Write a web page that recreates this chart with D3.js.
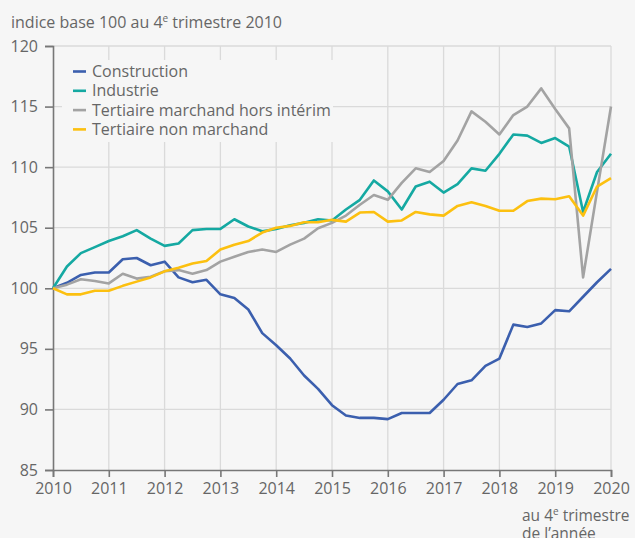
<!DOCTYPE html>
<html>
<head>
<meta charset="utf-8">
<script src="https://cdn.jsdelivr.net/npm/d3@7"></script>
<style>
  html, body { margin: 0; padding: 0; background: #f6f6f6; }
  text { font-family: "Open Sans", sans-serif; fill: #666; }
</style>
</head>
<body>
<div id="chart"></div>
<script>
// indices trimestriels, base 100 au T4 2010 (41 trimestres, T4 2010 -> T4 2020)
var seriesNames = ["Construction", "Industrie", "Tertiaire marchand hors intérim", "Tertiaire non marchand"];
var seriesColors = ["#3b5fae", "#15a9a2", "#a3a3a3", "#fcc010"];

var construction = [100, 100.45, 101.1, 101.3, 101.3, 102.4, 102.5, 101.9, 102.2, 100.9, 100.5, 100.7,
  99.5, 99.2, 98.25, 96.3, 95.3, 94.2, 92.8, 91.7, 90.35, 89.5, 89.3, 89.3, 89.2, 89.7, 89.7, 89.7,
  90.8, 92.1, 92.4, 93.6, 94.2, 97.0, 96.8, 97.1, 98.2, 98.1, 99.3, 100.5, 101.6];
var industrie = [100, 101.8, 102.9, 103.4, 103.9, 104.3, 104.8, 104.1, 103.5, 103.7, 104.8, 104.9,
  104.9, 105.7, 105.1, 104.7, 104.9, 105.2, 105.4, 105.7, 105.6, 106.5, 107.3, 108.9, 108.0, 106.5,
  108.4, 108.8, 107.9, 108.6, 109.9, 109.7, 111.1, 112.7, 112.6, 112.0, 112.4, 111.7, 106.3, 109.6, 111.1];
var tertiaireMarchand = [100, 100.3, 100.75, 100.6, 100.4, 101.2, 100.8, 100.95, 101.4, 101.5, 101.2, 101.5,
  102.2, 102.6, 103.0, 103.2, 103.0, 103.6, 104.1, 104.95, 105.4, 106.0, 106.9, 107.7, 107.3, 108.7,
  109.9, 109.6, 110.5, 112.2, 114.6, 113.75, 112.7, 114.3, 115.0, 116.5, 114.8, 113.2, 100.9, 108.0, 115.0];
var tertiaireNonMarchand = [100, 99.5, 99.5, 99.8, 99.8, 100.2, 100.55, 100.9, 101.4, 101.7, 102.05, 102.25,
  103.2, 103.6, 103.9, 104.6, 105.0, 105.15, 105.45, 105.45, 105.65, 105.5, 106.25, 106.3, 105.5, 105.6,
  106.3, 106.1, 106.0, 106.8, 107.1, 106.8, 106.4, 106.4, 107.2, 107.4, 107.35, 107.6, 106.0, 108.4, 109.1];

var xTicks = [2010, 2011, 2012, 2013, 2014, 2015, 2016, 2017, 2018, 2019, 2020];
var yTicks = [85, 90, 95, 100, 105, 110, 115, 120];

var allSeries = [construction, industrie, tertiaireMarchand, tertiaireNonMarchand];

var width = 635, height = 538;
// bords de la zone de tracé ("top" est reserve par window, d'ou les noms)
var plotLeft = 53, plotRight = 611, plotTop = 46, plotBottom = 470;

var svg = d3.select("#chart")
  .append("svg")
  .attr("width", width)
  .attr("height", height);

var x = d3.scaleLinear().domain([2010, 2020]).range([plotLeft, plotRight]);
var y = d3.scaleLinear().domain([85, 120]).range([plotBottom, plotTop]);

// grille
svg.append("g")
  .selectAll("line")
  .data(xTicks.slice(1))
  .enter().append("line")
  .attr("x1", function(d) { return x(d); })
  .attr("x2", function(d) { return x(d); })
  .attr("y1", plotTop)
  .attr("y2", plotBottom)
  .style("stroke", "#dadada")
  .style("stroke-width", 1.3);

svg.append("g")
  .selectAll("line")
  .data(yTicks.slice(1))
  .enter().append("line")
  .attr("x1", plotLeft)
  .attr("x2", plotRight)
  .attr("y1", function(d) { return y(d); })
  .attr("y2", function(d) { return y(d); })
  .style("stroke", "#dadada")
  .style("stroke-width", 1.3);

// axes
svg.append("g")
  .attr("transform", "translate(" + plotLeft + ",0)")
  .call(d3.axisLeft(y).tickValues(yTicks).tickSize(8).tickPadding(7).tickFormat(d3.format("d")));

svg.append("g")
  .attr("transform", "translate(0," + plotBottom + ")")
  .call(d3.axisBottom(x).tickValues(xTicks).tickSize(7).tickPadding(6).tickFormat(d3.format("d")));

svg.selectAll(".domain, .tick line")
  .style("stroke", "#777")
  .style("stroke-width", 1.6);
svg.selectAll(".tick text")
  .style("font-family", "'Open Sans', sans-serif")
  .style("font-size", "16px")
  .style("fill", "#666");

// courbes
var line = d3.line()
  .x(function(d, i) { return x(2010 + i / 4); })
  .y(function(d) { return y(d); });

svg.append("g")
  .selectAll("path")
  .data(allSeries)
  .enter().append("path")
  .attr("d", line)
  .style("fill", "none")
  .style("stroke", function(d, i) { return seriesColors[i]; })
  .style("stroke-width", 2.6)
  .style("stroke-linejoin", "round");

// legende (fond qui masque la grille)
var legend = svg.append("g");
legend.append("rect")
  .attr("x", 62)
  .attr("y", 60)
  .attr("width", 271)
  .attr("height", 82)
  .style("fill", "#f6f6f6");

var item = legend.selectAll(".item")
  .data(seriesNames)
  .enter().append("g")
  .attr("class", "item")
  .attr("transform", function(d, i) { return "translate(73," + (71.5 + i * 19.3) + ")"; });

item.append("line")
  .attr("x1", 0)
  .attr("x2", 13)
  .style("stroke", function(d, i) { return seriesColors[i]; })
  .style("stroke-width", 2.6);

item.append("text")
  .attr("x", 19)
  .attr("dy", "0.35em")
  .style("font-size", "16px")
  .text(function(d) { return d; });

// titre
var title = svg.append("text")
  .attr("x", 11)
  .attr("y", 28)
  .style("font-size", "16px");
title.append("tspan").text("indice base 100 au 4");
title.append("tspan").attr("dy", -6).style("font-size", "10px").text("e");
title.append("tspan").attr("dy", 6).text(" trimestre 2010");

// note axe x
var note = svg.append("text")
  .attr("x", 522)
  .attr("y", 521)
  .style("font-size", "15.5px");
note.append("tspan").text("au 4");
note.append("tspan").attr("dy", -6).style("font-size", "10px").text("e");
note.append("tspan").attr("dy", 6).text(" trimestre");

svg.append("text")
  .attr("x", 522)
  .attr("y", 539)
  .style("font-size", "15.5px")
  .text("de l’année");
</script>
</body>
</html>
